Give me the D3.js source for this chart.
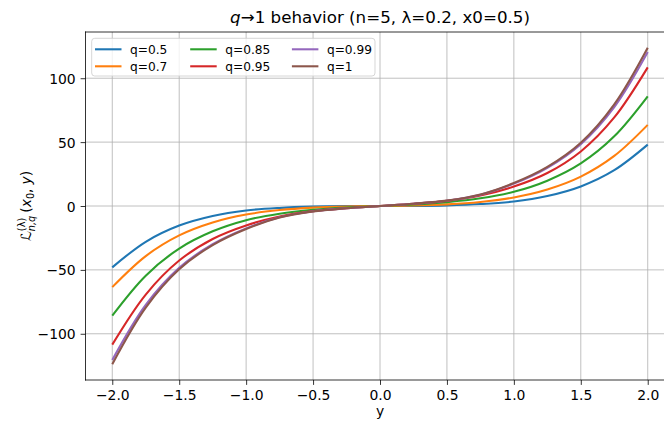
<!DOCTYPE html>
<html>
<head>
<meta charset="utf-8">
<script src="https://cdn.jsdelivr.net/npm/d3@7"></script>
<style>
  body { margin: 0; background: #fff; overflow: hidden; }
  svg { display: block; font-family: "DejaVu Sans", sans-serif; }
</style>
</head>
<body>
<div id="chart"></div>
<script>
// q -> 1 behaviour

const yGrid = [-2, -1.75, -1.5, -1.25, -1, -0.75, -0.5, -0.25, 0, 0.25, 0.5, 0.75, 1, 1.25, 1.5, 1.75, 2];

const qLabels = ["q=0.5", "q=0.7", "q=0.85", "q=0.95", "q=0.99", "q=1"];
const qColors = ["#1f77b4", "#ff7f0e", "#2ca02c", "#d62728", "#9467bd", "#8c564b"];

const q050 = [-48, -28, -15.3, -7.8, -3.5, -1.5, -0.5, -0.1, 0, 0.1, 0.5, 1.5, 3.5, 7.8, 15.3, 28, 48];
const q070 = [-63.5, -39.2, -23, -12.9, -6.7, -3.2, -1.3, -0.4, 0, 0.4, 1.3, 3.2, 6.7, 12.9, 23, 39.2, 63.5];
const q085 = [-85.8, -54.5, -33.3, -19.8, -11.1, -6.0, -3.0, -1.2, 0, 1.2, 3.0, 6.0, 11.1, 19.8, 33.3, 54.5, 85.8];
const q095 = [-108.5, -69.3, -42.7, -25.8, -15.2, -8.2, -4.0, -1.7, 0, 1.7, 4.0, 8.2, 15.2, 25.8, 42.7, 69.3, 108.5];
const q099 = [-120.5, -77.4, -48.4, -29.9, -17.5, -8.8, -4.1, -1.8, 0, 1.8, 4.1, 8.8, 17.5, 29.9, 48.4, 77.4, 120.5];
const q100 = [-123.8, -79.5, -49.5, -30.6, -18.0, -9.0, -4.2, -1.8, 0, 1.8, 4.2, 9.0, 18.0, 30.6, 49.5, 79.5, 123.8];

const xTicks = [-2, -1.5, -1, -0.5, 0, 0.5, 1, 1.5, 2];
const yTicks = [-100, -50, 0, 50, 100];

const series = [q050, q070, q085, q095, q099, q100].map((vals, i) => ({
    label: qLabels[i],
    color: qColors[i],
    points: yGrid.map((y, j) => ({ y: y, v: vals[j] }))
}));

const width = 664;
const height = 424;
// the plot area runs past the right edge of the picture, as in the reference
const margin = { top: 32, right: -10.5, bottom: 44, left: 85.5 };
const innerWidth = width - margin.left - margin.right;
const innerHeight = height - margin.top - margin.bottom;
const visibleRight = width - margin.left;

const svg = d3.select("#chart")
    .append("svg")
    .attr("width", width)
    .attr("height", height);

const g = svg.append("g")
    .attr("transform", "translate(" + margin.left + "," + margin.top + ")");

// 5% margins like matplotlib
const xScale = d3.scaleLinear().domain([-2.2, 2.2]).range([0, innerWidth]);
const yExt = d3.max(series, s => d3.max(s.points, p => Math.abs(p.v)));
const yScale = d3.scaleLinear().domain([-yExt * 1.1, yExt * 1.1]).range([innerHeight, 0]);

// grid
g.append("g").selectAll("line")
    .data(xTicks).join("line")
    .attr("x1", d => xScale(d)).attr("x2", d => xScale(d))
    .attr("y1", 0).attr("y2", innerHeight)
    .attr("stroke", "#b0b0b0").attr("stroke-width", 0.8);

g.append("g").selectAll("line")
    .data(yTicks).join("line")
    .attr("x1", 0).attr("x2", visibleRight)
    .attr("y1", d => yScale(d)).attr("y2", d => yScale(d))
    .attr("stroke", "#b0b0b0").attr("stroke-width", 0.8);

// curves
const line = d3.line()
    .x(d => xScale(d.y))
    .y(d => yScale(d.v))
    .curve(d3.curveCatmullRom.alpha(0.5));

series.forEach(s => {
    g.append("path")
        .datum(s.points)
        .attr("d", line)
        .attr("fill", "none")
        .attr("stroke", s.color)
        .attr("stroke-width", 2.08);
});

// axes
const fmtX = d => d3.format(".1f")(d).replace("-", "\u2212");
const fmtY = d => String(d).replace("-", "\u2212");

const xAxis = g.append("g")
    .attr("transform", "translate(0," + innerHeight + ")")
    .call(d3.axisBottom(xScale).tickValues(xTicks).tickFormat(fmtX).tickSize(4.9).tickPadding(4.9));

const yAxis = g.append("g")
    .call(d3.axisLeft(yScale).tickValues(yTicks).tickFormat(fmtY).tickSize(4.9).tickPadding(4.9));

[xAxis, yAxis].forEach(ax => {
    ax.select(".domain").remove();
    ax.selectAll(".tick line").attr("stroke", "#000").attr("stroke-width", 0.8);
    ax.selectAll(".tick text")
        .attr("fill", "#000")
        .style("font-family", "DejaVu Sans")
        .style("font-size", "13.9px");
});
xAxis.selectAll(".tick text").attr("dy", null).attr("y", 19.8);
yAxis.selectAll(".tick text").attr("dy", null).attr("y", 5);

// spines (right one lies outside the picture)
const spines = [
    [0, 0, visibleRight, 0],
    [0, innerHeight, visibleRight, innerHeight],
    [0, 0, 0, innerHeight]
];
g.append("g").selectAll("line")
    .data(spines).join("line")
    .attr("x1", d => d[0]).attr("y1", d => d[1])
    .attr("x2", d => d[2]).attr("y2", d => d[3])
    .attr("stroke", "#000").attr("stroke-width", 0.8)
    .attr("stroke-linecap", "square");

// title
const title = svg.append("text")
    .attr("x", margin.left + innerWidth / 2)
    .attr("y", 23)
    .attr("text-anchor", "middle")
    .style("font-size", "16.7px");
title.append("tspan").style("font-style", "italic").text("q");
title.append("tspan").text("\u21921 behavior (n=5, \u03bb=0.2, x0=0.5)");

// x label
svg.append("text")
    .attr("x", margin.left + innerWidth / 2)
    .attr("y", 416)
    .attr("text-anchor", "middle")
    .style("font-size", "13.9px")
    .text("y");

// y label, built piece by piece in a rotated group
const yLab = svg.append("g")
    .attr("transform", "translate(31," + (margin.top + innerHeight / 2) + ") rotate(-90)");
const pieces = [
    { t: "\u2112", size: 13.9, italic: true, dy: 0, advance: true },
    { t: "n,q", size: 9.7, italic: true, dy: 4, advance: false },
    { t: "(\u03bb)", size: 9.7, italic: false, dy: -6, advance: true },
    { t: "(", size: 13.9, italic: false, dy: 0, advance: true, gap: 3 },
    { t: "x", size: 13.9, italic: true, dy: 0, advance: true },
    { t: "0", size: 9.7, italic: false, dy: 3, advance: true },
    { t: ",", size: 13.9, italic: false, dy: 0, advance: true },
    { t: "y", size: 13.9, italic: true, dy: 0, advance: true, gap: 4 },
    { t: ")", size: 13.9, italic: false, dy: 0, advance: true }
];
let cursor = 0;
let prevWidth = 0;
const nodes = [];
pieces.forEach(p => {
    cursor += p.gap || 0;
    const t = yLab.append("text")
        .attr("x", cursor)
        .attr("y", p.dy)
        .style("font-size", p.size + "px")
        .style("font-style", p.italic ? "italic" : "normal")
        .text(p.t);
    const w = t.node().getComputedTextLength();
    nodes.push(t);
    if (p.advance) {
        cursor += Math.max(w, prevWidth);
        prevWidth = 0;
    } else {
        prevWidth = w;
    }
});
nodes.forEach(t => t.attr("x", +t.attr("x") - cursor / 2));

// legend
const legend = g.append("g").attr("transform", "translate(6.2,6.3)");
legend.append("rect")
    .attr("width", 283.3).attr("height", 37.7)
    .attr("rx", 3)
    .attr("fill", "#fff").attr("fill-opacity", 0.8)
    .attr("stroke", "#cccccc").attr("stroke-width", 0.8);

const colX = [3.3, 98.5, 200.2];
const rowY = [11, 28];
series.forEach((s, i) => {
    const col = Math.floor(i / 2);
    const row = i % 2;
    const item = legend.append("g")
        .attr("transform", "translate(" + colX[col] + "," + rowY[row] + ")");
    item.append("line")
        .attr("x1", 0).attr("x2", 26.5)
        .attr("stroke", s.color).attr("stroke-width", 2.08);
    item.append("text")
        .attr("x", 35)
        .attr("y", 4.4)
        .style("font-size", "12.2px")
        .text(s.label);
});
</script>
</body>
</html>
